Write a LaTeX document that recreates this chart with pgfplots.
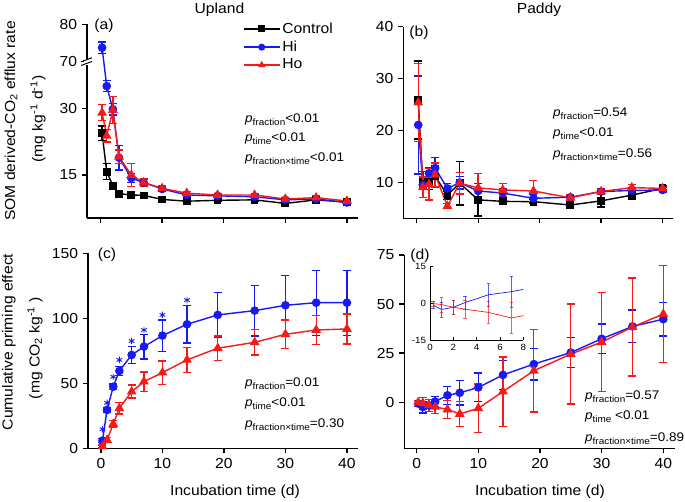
\documentclass[border=0pt]{standalone}
\usepackage{fontspec}
\setmainfont{Liberation Sans}[FakeStretch=1.08]
\usepackage{pgfplots}
\pgfplotsset{compat=1.18}
\usepackage{pgfplotstable}

\definecolor{myblue}{RGB}{25,25,245}
\definecolor{myred}{RGB}{245,25,25}
\newcommand{\fs}{\fontsize{14.5}{17}\selectfont}
\newcommand{\pp}[1]{\textit{p}\raisebox{-2.8pt}{\fontsize{9.2}{10}\selectfont #1}}

% ---------------- data (t, y, e) ----------------
\pgfplotstableread{
t y e
0.25 24.4 1.6
1 15.75 1.8
2 12.6 0.4
3 10.8 0.4
5 10.5 0.4
7 10.4 0.4
10 9.5 0.3
14 9.1 0.3
19 9.3 0.3
25 9.4 0.3
30 8.6 0.3
35 9.4 0.3
40 8.9 0.3
}\aC
\pgfplotstableread{
t y e
0.25 73.75 1.3
1 35.0 1.2
2 29.8 1.3
3 18.9 2.8
5 14.3 1.0
7 13.3 0.9
10 11.85 0.5
14 10.5 0.4
19 10.3 0.4
25 10.1 0.4
30 9.4 0.4
35 9.6 0.4
40 8.8 0.4
}\aHi
\pgfplotstableread{
t y e
0.25 29.0 1.8
1 23.8 1.4
2 29.6 3.0
3 19.1 1.5
5 15.0 2.6
7 13.3 0.8
10 12.0 0.5
14 10.9 0.4
19 10.5 0.4
25 10.5 0.4
30 9.6 0.4
35 9.9 0.4
40 9.15 0.4
}\aHo
\pgfplotstableread{
t y e
0.25 25.9 7.5
1 9.7 1.0
2 10.2 1.5
3 11.2 2.0
5 7.6 0.8
7 9.9 4.2
10 6.7 3.1
14 6.4 0.5
19 6.35 0.4
25 5.7 0.4
30 6.5 1.2
35 7.6 0.8
40 8.9 0.5
}\bC
\pgfplotstableread{
t y e
0.25 21.1 9.4
1 9.6 2.5
2 11.8 1.0
3 12.8 2.0
5 8.9 1.0
7 10.0 1.2
10 8.4 1.5
14 8.0 0.8
19 7.0 0.8
25 7.2 0.4
30 8.3 0.4
35 8.5 0.5
40 8.6 0.5
}\bHi
\pgfplotstableread{
t y e
0.25 25.4 7.5
1 9.1 2.0
2 9.7 3.0
3 11.5 2.3
5 5.5 0.5
7 9.9 2.1
10 9.0 2.8
14 8.6 1.2
19 8.4 2.0
25 7.1 0.5
30 8.3 0.5
35 9.05 0.6
40 8.9 0.4
}\bHo
\pgfplotstableread{
t y e
0.25 5.9 1.5
1 29.5 1.5
2 47.4 2.0
3 59.5 3.5
5 71.8 6.5
7 78.2 9.5
10 86.7 12
14 95.4 14.5
19 102.6 17
25 105.9 19.5
30 110 23
35 112 25
40 112 25
}\cHi
\pgfplotstableread{
t y e
0.25 1.5 1.0
1 6.4 2.0
2 18.7 2.5
3 30.8 4.5
5 43.6 5.0
7 51.3 7.5
10 58.2 9.0
14 68 9.7
19 77 9.5
25 81.5 9.7
30 87.7 11
35 91 11.3
40 91.8 11.5
}\cHo
\pgfplotstableread{
t y
0.25 14.6
1 35
2 55
3 68
5 82.5
7 91
10 102.6
14 114
}\cStar
\pgfplotstableread{
t y e
0.25 -0.7 1.5
1 -2.5 3.0
2 -1.6 3.0
3 0.3 2.7
5 3.5 4.6
7 4.8 6.3
10 7.5 7.3
14 13.9 7.4
19 19.4 8.1
25 25.3 7.7
30 32.3 7.6
35 38.6 8.3
40 42.3 8.5
}\dHi
\pgfplotstableread{
t y e
0.25 -0.1 1.0
1 -0.5 3.0
2 -1.6 3.0
3 -2.4 3.5
5 -3.7 4.5
7 -6.0 6.3
10 -3.1 12.3
14 5.4 17.7
19 16.0 21
25 24.5 25.5
30 30.6 25.3
35 38.3 25
40 44.9 24.7
}\dHo

\pgfplotsset{
  base/.style={scale only axis, anchor=south west,
    axis x line*=bottom, axis y line*=left,
    axis line style={line width=1.3pt},
    every tick/.style={line width=1.3pt, black},
    tick align=outside, major tick length=5pt,
    xtick={0,10,20,30,40},
    ticklabel style={font=\fs},
    /pgf/number format/assume math mode=true,
    clip=false},
  ebar/.style={error bars/.cd, y dir=both, y explicit,
    error bar style={line width=1.35pt, color=#1},
    error mark options={rotate=90, mark size=4pt, line width=1.35pt, color=#1}},
  sC/.style={black, line width=1.4pt, mark=square*, mark size=3.2pt, mark options={solid}, ebar=black},
  sHi/.style={myblue, line width=1.4pt, mark=*, mark size=3.6pt, mark options={solid}, ebar=myblue},
  sHo/.style={myred, line width=1.4pt, mark=triangle*, mark size=4.3pt, mark options={solid}, ebar=myred},
  iebar/.style={error bars/.cd, y dir=both, y explicit,
    error bar style={line width=0.5pt, color=#1, opacity=0.7},
    error mark options={rotate=90, mark size=1.8pt, line width=0.5pt, color=#1, opacity=0.7}},
}

\begin{document}
\fs
\begin{tikzpicture}[x=1pt,y=1pt]
\useasboundingbox (0,0) rectangle (685,502);

% ---------------- (a) ----------------
\begin{axis}[base, at={(87pt,284pt)}, width=271pt, height=193.7pt,
  xmin=-2.2, xmax=41.8, xticklabels={},
  y coord trafo/.code={\pgfmathparse{ifthenelse(#1>55,40.5+(#1-70)*0.8416,#1)}},
  y coord inv trafo/.code={\pgfmathparse{ifthenelse(#1>40.5,70+(#1-40.5)/0.8416,#1)}},
  ymin=5.32, ymax=80, ytick={15,30,70,80}, yticklabels={15,30,70,80},
  legend style={at={(axis description cs:0.575,1.02)}, anchor=north west, draw=none, fill=none,
    font=\fs, row sep=1.5pt, inner sep=0pt},
  legend cell align=left,
  legend image code/.code={\draw[mark repeat=2,mark phase=2,#1,mark size=2.8pt] plot coordinates {(0pt,0pt) (18pt,0pt) (36pt,0pt)};},
]
\addplot[sC] table[x=t,y=y,y error=e]{\aC};
\addplot[sHi] table[x=t,y=y,y error=e]{\aHi};
\addplot[sHo] table[x=t,y=y,y error=e]{\aHo};
\legend{Control,Hi,Ho}
\end{axis}
% axis break mark
\fill[white] (84,437.3) rectangle (90,443.3);
\draw[line width=1pt] (81,436.5) -- (92,440.5);
\draw[line width=1pt] (81,440.2) -- (92,444.2);

% ---------------- (b) ----------------
\begin{axis}[base, at={(403.3pt,283.7pt)}, width=269.7pt, height=191.6pt,
  xmin=-2.18, xmax=41.7, xticklabels={},
  ymin=3.15, ymax=40, ytick={10,20,30,40}]
\addplot[sC] table[x=t,y=y,y error=e]{\bC};
\addplot[sHi] table[x=t,y=y,y error=e]{\bHi};
\addplot[sHo] table[x=t,y=y,y error=e]{\bHo};
\end{axis}

% ---------------- (c) ----------------
\begin{axis}[base, at={(88pt,53.7pt)}, width=270pt, height=195pt,
  xmin=-2.1, xmax=41.8,
  ymin=0, ymax=150, ytick={0,50,100,150}]
\addplot[sHi] table[x=t,y=y,y error=e]{\cHi};
\addplot[sHo] table[x=t,y=y,y error=e]{\cHo};
\addplot[only marks, mark=asterisk, mark size=3.2pt, myblue, mark options={line width=0.9pt}] table[x=t,y=y]{\cStar};
\end{axis}

% ---------------- (d) ----------------
\begin{axis}[base, at={(404.3pt,53.7pt)}, width=270.7pt, height=193.3pt,
  xmin=-2.0, xmax=41.9,
  ymin=-23.5, ymax=75, ytick={0,25,50,75}]
\addplot[sHi] table[x=t,y=y,y error=e]{\dHi};
\addplot[sHo] table[x=t,y=y,y error=e]{\dHo};
\end{axis}

% inset of (d)
\begin{axis}[scale only axis, anchor=south west, at={(430pt,162pt)}, width=93.3pt, height=73.3pt,
  axis x line*=bottom, axis y line*=left,
  axis line style={line width=0.7pt}, every tick/.style={line width=0.6pt, black},
  tick align=inside, major tick length=2.5pt,
  xmin=0, xmax=8, ymin=-15, ymax=15,
  xtick={0,2,4,6,8}, ytick={-15,0,15},
  ticklabel style={font=\fontsize{9}{10}\selectfont},
  xticklabel style={yshift=1pt}, yticklabel style={xshift=1pt},
  /pgf/number format/assume math mode=true]
\addplot[myblue, line width=0.7pt, iebar=myblue] table[x=t,y=y,y error=e]{\dHi};
\addplot[myred, line width=0.7pt, iebar=myred] table[x=t,y=y,y error=e]{\dHo};
\end{axis}

% ---------------- texts ----------------
\node at (219.5,492) {Upland};
\node at (539,492) {Paddy};
\node at (235,10) {Incubation time (d)};
\node at (540,10) {Incubation time (d)};

\node[rotate=90] at (11,381) {SOM derived-CO\textsubscript{2} efflux rate};
\node[rotate=90] at (38,383) {(mg kg\textsuperscript{-1} d\textsuperscript{-1})};
\node[rotate=90] at (9,160) {Cumulative priming effect};
\node[rotate=90] at (35,154) {(mg CO\textsubscript{2} kg\textsuperscript{-1} )};

\node at (104,476.5) {(a)};
\node at (419,469) {(b)};
\node at (107,247) {(c)};
\node at (420,246) {(d)};

\begin{scope}[every node/.style={anchor=base west, font=\fontsize{12.5}{14}\selectfont, inner sep=0pt}]
\node at (245,379) {\pp{fraction}<0.01};
\node at (245,360) {\pp{time}<0.01};
\node at (245,340) {\pp{fraction×time}<0.01};

\node at (553,385) {\pp{fraction}=0.54};
\node at (553,365) {\pp{time}<0.01};
\node at (553,344) {\pp{fraction×time}=0.56};

\node at (245,115) {\pp{fraction}=0.01};
\node at (245,95) {\pp{time}<0.01};
\node at (245,74) {\pp{fraction×time}=0.30};

\node at (585,102) {\pp{fraction}=0.57};
\node at (585,82) {\pp{time} <0.01};
\node at (585,60) {\pp{fraction×time}=0.89};
\end{scope}
\end{tikzpicture}
\end{document}
